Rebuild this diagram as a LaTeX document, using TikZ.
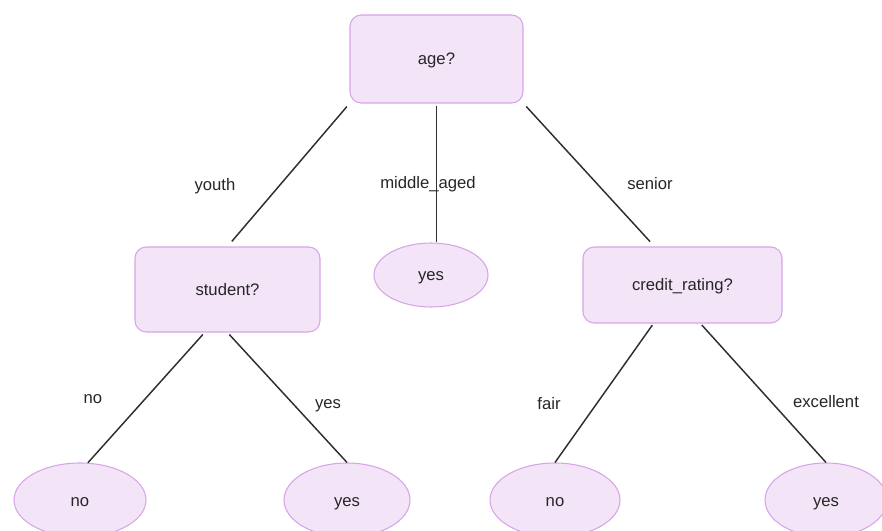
\documentclass[tikz,border=0pt]{standalone}
\usepackage{fontspec}
\setmainfont{Liberation Sans}
\usetikzlibrary{shapes.geometric}
\definecolor{nodefill}{HTML}{F3E5F7}
\definecolor{nodeline}{HTML}{D8A4E8}
\definecolor{edgeline}{HTML}{2E2E2E}

\begin{document}
\begin{tikzpicture}[x=0.75pt, y=-0.75pt,
    every node/.style={font=\fontsize{12.5}{14}\selectfont, text=black!85},
    test/.style={rectangle, rounded corners=8.5pt, draw=nodeline, fill=nodefill, line width=0.8pt, inner sep=0pt, text height=0.9em, text depth=0pt},
    leaf/.style={ellipse, draw=nodeline, fill=nodefill, line width=0.8pt, inner sep=0pt, text height=0.9em, text depth=0pt},
    branch/.style={draw=edgeline, line width=1.1pt}]
    \clip (0,0) rectangle (882,531);

    \node[test, minimum width=129.75pt, minimum height=66pt] (age) at (436.5,59) {age?};
    \node[test, minimum width=138.75pt, minimum height=63.75pt] (student) at (227.5,289.5) {student?};
    \node[test, minimum width=149.25pt, minimum height=57pt] (credit) at (682.5,285) {credit\_rating?};

    \node[leaf, minimum width=85.5pt, minimum height=48pt] (yes1) at (431,275) {yes};
    \node[leaf, minimum width=99pt, minimum height=55.5pt] (no1) at (80,500) {no};
    \node[leaf, minimum width=94.5pt, minimum height=55.5pt] (yes2) at (347,500) {yes};
    \node[leaf, minimum width=97.5pt, minimum height=55.5pt] (no2) at (555,500) {no};
    \node[leaf, minimum width=91.5pt, minimum height=55.5pt] (yes3) at (826,500) {yes};

    \draw[branch, shorten <=3pt, shorten >=5pt] (age.south west) -- (student.north);
    \draw[branch, shorten <=1.5pt] (age.south) -- (age.south |- yes1.north);
    \draw[branch, shorten <=3pt, shorten >=5pt] (age.south east) -- (credit.126);
    \draw[branch, shorten <=2pt] (student.242) -- (no1.78);
    \draw[branch, shorten <=2pt] (student.south) -- (yes2.north);
    \draw[branch, shorten <=1.5pt] (credit.233) -- (no2.north);
    \draw[branch, shorten <=1.5pt] (credit.295) -- (yes3.north);

    \node (lyouth) at (215,186) {youth};
    \node (lmiddle) at (428,184) {middle\_aged};
    \node (lsenior) at (650,184) {senior};
    \node (lno) at (93,399) {no};
    \node (lyes) at (328,406) {yes};
    \node (lfair) at (549,404) {fair};
    \node (lexcellent) at (826,402) {excellent};
\end{tikzpicture}
\end{document}
